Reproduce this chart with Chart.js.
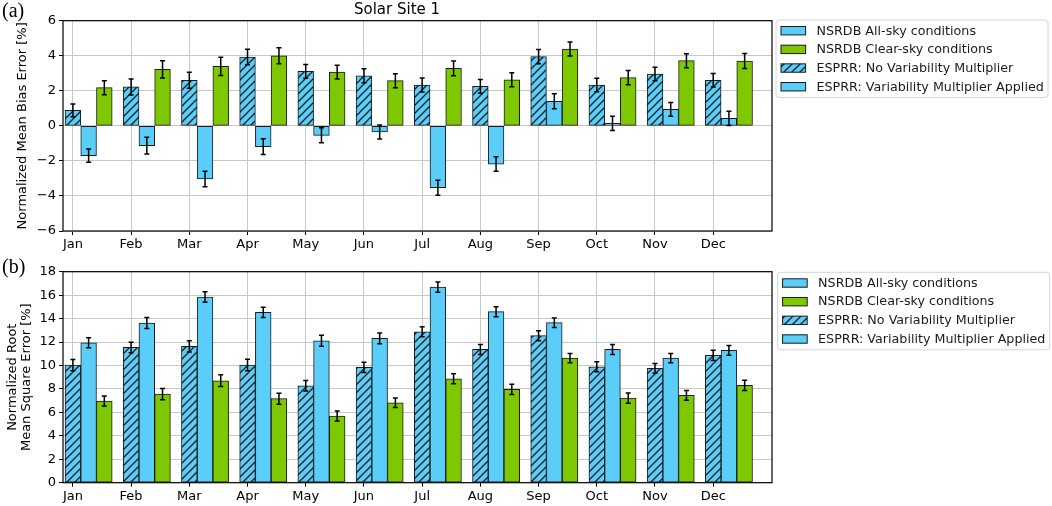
<!DOCTYPE html>
<html><head><meta charset="utf-8">
<script src="https://cdn.jsdelivr.net/npm/chart.js@4.4.1/dist/chart.umd.min.js"></script>
<style>
html,body{margin:0;padding:0;background:#fff;}
#wrap{position:relative;width:1052px;height:506px;overflow:hidden;background:#fff;}
canvas{position:absolute;left:0;}
#chartA{top:0;}
#chartB{top:253px;}
</style></head><body>
<div id="wrap">
<canvas id="chartA" width="1052" height="253"></canvas>
<canvas id="chartB" width="1052" height="253"></canvas>
</div>
<script>
// ---------- data ----------
const months = ['Jan','Feb','Mar','Apr','May','Jun','Jul','Aug','Sep','Oct','Nov','Dec'];
const siteTitle = 'Solar Site 1';
const panelLabels = ['(a)', '(b)'];
const seriesLabels = ['NSRDB All-sky conditions','NSRDB Clear-sky conditions','ESPRR: No Variability Multiplier','ESPRR: Variability Multiplier Applied'];
const yTitleA = 'Normalized Mean Bias Error [%]';
const yTitleB = ['Normalized Root','Mean Square Error [%]'];
const yTicksA = [-6,-4,-2,0,2,4,6];
const yTicksB = [0,2,4,6,8,10,12,14,16,18];

// Panel (a): Normalized Mean Bias Error [%]
const mbeNoMult    = [0.88, 2.22, 2.60, 3.93, 3.11, 2.86, 2.33, 2.25, 3.95, 2.33, 2.96, 2.60];
const mbeNoMultErr = [0.36, 0.46, 0.46, 0.44, 0.39, 0.40, 0.40, 0.39, 0.41, 0.39, 0.38, 0.39];
const mbeMult      = [-1.70, -1.13, -3.03, -1.19, -0.54, -0.35, -3.53, -2.18, 1.40, 0.14, 0.94, 0.43];
const mbeMultErr   = [0.38, 0.48, 0.44, 0.45, 0.43, 0.40, 0.43, 0.41, 0.43, 0.41, 0.39, 0.41];
const mbeClear     = [2.18, 3.22, 3.39, 4.00, 3.07, 2.58, 3.28, 2.63, 4.38, 2.75, 3.72, 3.70];
const mbeClearErr  = [0.40, 0.49, 0.52, 0.45, 0.39, 0.40, 0.42, 0.40, 0.40, 0.41, 0.40, 0.43];
const mbeAllSky    = [];

// Panel (b): Normalized Root Mean Square Error [%]
const rmseNoMult    = [10.04, 11.54, 11.63, 10.04, 8.27, 9.84, 12.88, 11.37, 12.54, 9.89, 9.75, 10.86];
const rmseNoMultErr = [0.48, 0.45, 0.47, 0.50, 0.44, 0.43, 0.43, 0.43, 0.43, 0.43, 0.41, 0.43];
const rmseMult      = [11.94, 13.62, 15.84, 14.53, 12.11, 12.31, 16.69, 14.59, 13.65, 11.37, 10.63, 11.29];
const rmseMultErr   = [0.43, 0.47, 0.45, 0.44, 0.47, 0.45, 0.44, 0.43, 0.41, 0.43, 0.40, 0.41];
const rmseClear     = [6.97, 7.56, 8.70, 7.17, 5.69, 6.82, 8.87, 7.96, 10.63, 7.22, 7.45, 8.30];
const rmseClearErr  = [0.43, 0.48, 0.50, 0.47, 0.43, 0.41, 0.43, 0.43, 0.40, 0.44, 0.41, 0.44];
const rmseAllSky    = [];

// ---------- styling ----------
const CYAN = '#5bcdf9';
const GREEN = '#7dc800';
const EDGE = '#1a1a1a';
const FONT = 'DejaVu Sans';
const BAR_W = 0.27;

function makeHatch(ctx){
  const c = document.createElement('canvas'); c.width = 8; c.height = 8;
  const g = c.getContext('2d');
  g.fillStyle = CYAN; g.fillRect(0,0,8,8);
  g.strokeStyle = EDGE; g.lineWidth = 1.25;
  g.beginPath();
  g.moveTo(-1,9); g.lineTo(9,-1);
  g.moveTo(-5,5); g.lineTo(5,-5);
  g.moveTo(3,13); g.lineTo(13,3);
  g.stroke();
  return ctx.createPattern(c,'repeat');
}

function toXY(vals, offset){ return vals.map((v,i)=>({x:i+offset, y:v})); }

function fmtTick(v){ return v < 0 ? '\u2212' + Math.abs(v) : String(v); }

const errorBarPlugin = {
  id:'errorBars',
  afterDatasetsDraw(chart){
    const ctx = chart.ctx, ys = chart.scales.y;
    chart.data.datasets.forEach((ds, di)=>{
      if(!ds.errors) return;
      const meta = chart.getDatasetMeta(di);
      meta.data.forEach((bar, i)=>{
        const v = ds.data[i].y, e = ds.errors[i];
        const y1 = ys.getPixelForValue(v - e), y2 = ys.getPixelForValue(v + e);
        ctx.save();
        ctx.strokeStyle = '#000'; ctx.lineWidth = 1.5;
        ctx.beginPath();
        ctx.moveTo(bar.x, y1); ctx.lineTo(bar.x, y2);
        ctx.moveTo(bar.x-2.5, y1); ctx.lineTo(bar.x+2.5, y1);
        ctx.moveTo(bar.x-2.5, y2); ctx.lineTo(bar.x+2.5, y2);
        ctx.stroke();
        ctx.restore();
      });
    });
  }
};

const framePlugin = {
  id:'frame',
  afterDatasetsDraw(chart){
    const ctx = chart.ctx, a = chart.chartArea;
    ctx.save(); ctx.strokeStyle = '#000'; ctx.lineWidth = 1.2;
    ctx.strokeRect(a.left, a.top, a.right - a.left, a.bottom - a.top);
    ctx.restore();
  }
};

const boxLegendPlugin = {
  id:'boxLegend',
  afterDraw(chart, args, opts){
    const ctx = chart.ctx, a = chart.chartArea;
    const x0 = a.right + opts.dx, y0 = a.top + opts.dy, w = 272, h = 77.5, r = 3;
    ctx.save();
    ctx.beginPath();
    ctx.moveTo(x0+r, y0); ctx.lineTo(x0+w-r, y0); ctx.quadraticCurveTo(x0+w, y0, x0+w, y0+r);
    ctx.lineTo(x0+w, y0+h-r); ctx.quadraticCurveTo(x0+w, y0+h, x0+w-r, y0+h);
    ctx.lineTo(x0+r, y0+h); ctx.quadraticCurveTo(x0, y0+h, x0, y0+h-r);
    ctx.lineTo(x0, y0+r); ctx.quadraticCurveTo(x0, y0, x0+r, y0);
    ctx.closePath();
    ctx.fillStyle = 'rgba(255,255,255,0.9)'; ctx.fill();
    ctx.strokeStyle = '#d4d4d4'; ctx.lineWidth = 1; ctx.stroke();
    chart.data.datasets.forEach((ds, i)=>{
      const cy = y0 + 10.7 + i * 18.67;
      ctx.fillStyle = ds.backgroundColor;
      ctx.fillRect(x0+5, cy-4.2, 24.6, 8.4);
      ctx.strokeStyle = EDGE; ctx.lineWidth = 1;
      ctx.strokeRect(x0+5, cy-4.2, 24.6, 8.4);
      ctx.fillStyle = '#1a1a1a';
      ctx.font = '12.7px "' + FONT + '"';
      ctx.textBaseline = 'middle'; ctx.textAlign = 'left';
      ctx.fillText(ds.label, x0+40.5, cy+0.5);
    });
    ctx.restore();
  }
};

const annotPlugin = {
  id:'annot',
  afterDraw(chart, args, opts){
    const ctx = chart.ctx;
    ctx.save();
    ctx.fillStyle = '#000';
    ctx.font = '20px "Liberation Serif"';
    ctx.textBaseline = 'middle'; ctx.textAlign = 'left';
    ctx.fillText(opts.panel, 2, opts.panelY);
    if(opts.title){
      ctx.font = '15px "' + FONT + '"';
      ctx.textAlign = 'center';
      ctx.fillText(opts.title, 397, 10.5);
    }
    ctx.restore();
  }
};

function buildChart(canvasId, cfg){
  const ctx = document.getElementById(canvasId).getContext('2d');
  const hatch = makeHatch(ctx);
  const common = {borderColor: EDGE, borderWidth: 1, borderSkipped: false, grouped: false,
                  categoryPercentage: 1.0, barPercentage: 1.0};
  const datasets = [
    Object.assign({label: seriesLabels[0], data: toXY(cfg.allSky, BAR_W), backgroundColor: CYAN}, common),
    Object.assign({label: seriesLabels[1], data: toXY(cfg.clear, 2*BAR_W), errors: cfg.clearErr, backgroundColor: GREEN}, common),
    Object.assign({label: seriesLabels[2], data: toXY(cfg.noMult, 0), errors: cfg.noMultErr, backgroundColor: hatch}, common),
    Object.assign({label: seriesLabels[3], data: toXY(cfg.mult, BAR_W), errors: cfg.multErr, backgroundColor: CYAN}, common)
  ];
  return new Chart(ctx, {
    type: 'bar',
    data: {datasets},
    plugins: [errorBarPlugin, framePlugin, boxLegendPlugin, annotPlugin],
    options: {
      responsive: false, animation: false, devicePixelRatio: 1,
      layout: {padding: {left: 0, right: 280, top: cfg.padTop, bottom: 0}},
      plugins: {
        legend: {display: false}, tooltip: {enabled: false},
        boxLegend: {dx: cfg.legDx, dy: cfg.legDy},
        annot: {panel: cfg.panel, panelY: cfg.panelY, title: cfg.title}
      },
      scales: {
        x: {
          type: 'linear', min: -0.17, max: 12.01, offset: false,
          afterBuildTicks: s => { s.ticks = months.map((m,i)=>({value:i})); },
          afterFit: s => { s.height = cfg.xHeight; },
          grid: {offset: false, color: '#c8c8c8', lineWidth: 1, tickLength: 4, tickColor: '#000', drawTicks: true},
          border: {display: false},
          ticks: {callback: v => months[v] ?? '', color: '#000', font: {family: FONT, size: 13}, padding: 2, maxRotation: 0, autoSkip: false}
        },
        y: {
          min: cfg.yTicks[0], max: cfg.yTicks[cfg.yTicks.length-1],
          afterBuildTicks: s => { s.ticks = cfg.yTicks.map(v=>({value:v})); },
          afterFit: s => { s.width = 63; },
          grid: {color: '#c8c8c8', lineWidth: 1, tickLength: 4, tickColor: '#000', drawTicks: true},
          border: {display: false},
          ticks: {callback: v => fmtTick(v), color: '#000', font: {family: FONT, size: 13}, padding: 3},
          title: {display: true, text: cfg.yTitle, color: '#000', font: {family: FONT, size: 13, lineHeight: cfg.yTitleLH}, padding: {top: cfg.yTitlePad, bottom: 0}}
        }
      }
    }
  });
}

buildChart('chartA', {
  allSky: mbeAllSky, clear: mbeClear, clearErr: mbeClearErr, noMult: mbeNoMult, noMultErr: mbeNoMultErr,
  mult: mbeMult, multErr: mbeMultErr, yTicks: yTicksA, yTitle: yTitleA, yTitleLH: 1.2, yTitlePad: 15,
  padTop: 20.7, xHeight: 22, legDx: 4, legDy: -0.7, panel: panelLabels[0], panelY: 11.5, title: siteTitle
});
buildChart('chartB', {
  allSky: rmseAllSky, clear: rmseClear, clearErr: rmseClearErr, noMult: rmseNoMult, noMultErr: rmseNoMultErr,
  mult: rmseMult, multErr: rmseMultErr, yTicks: yTicksB, yTitle: yTitleB, yTitleLH: 1.1, yTitlePad: 5,
  padTop: 18.7, xHeight: 23.3, legDx: 5.6, legDy: 0.6, panel: panelLabels[1], panelY: 15, title: null
});
</script>
</body></html>
